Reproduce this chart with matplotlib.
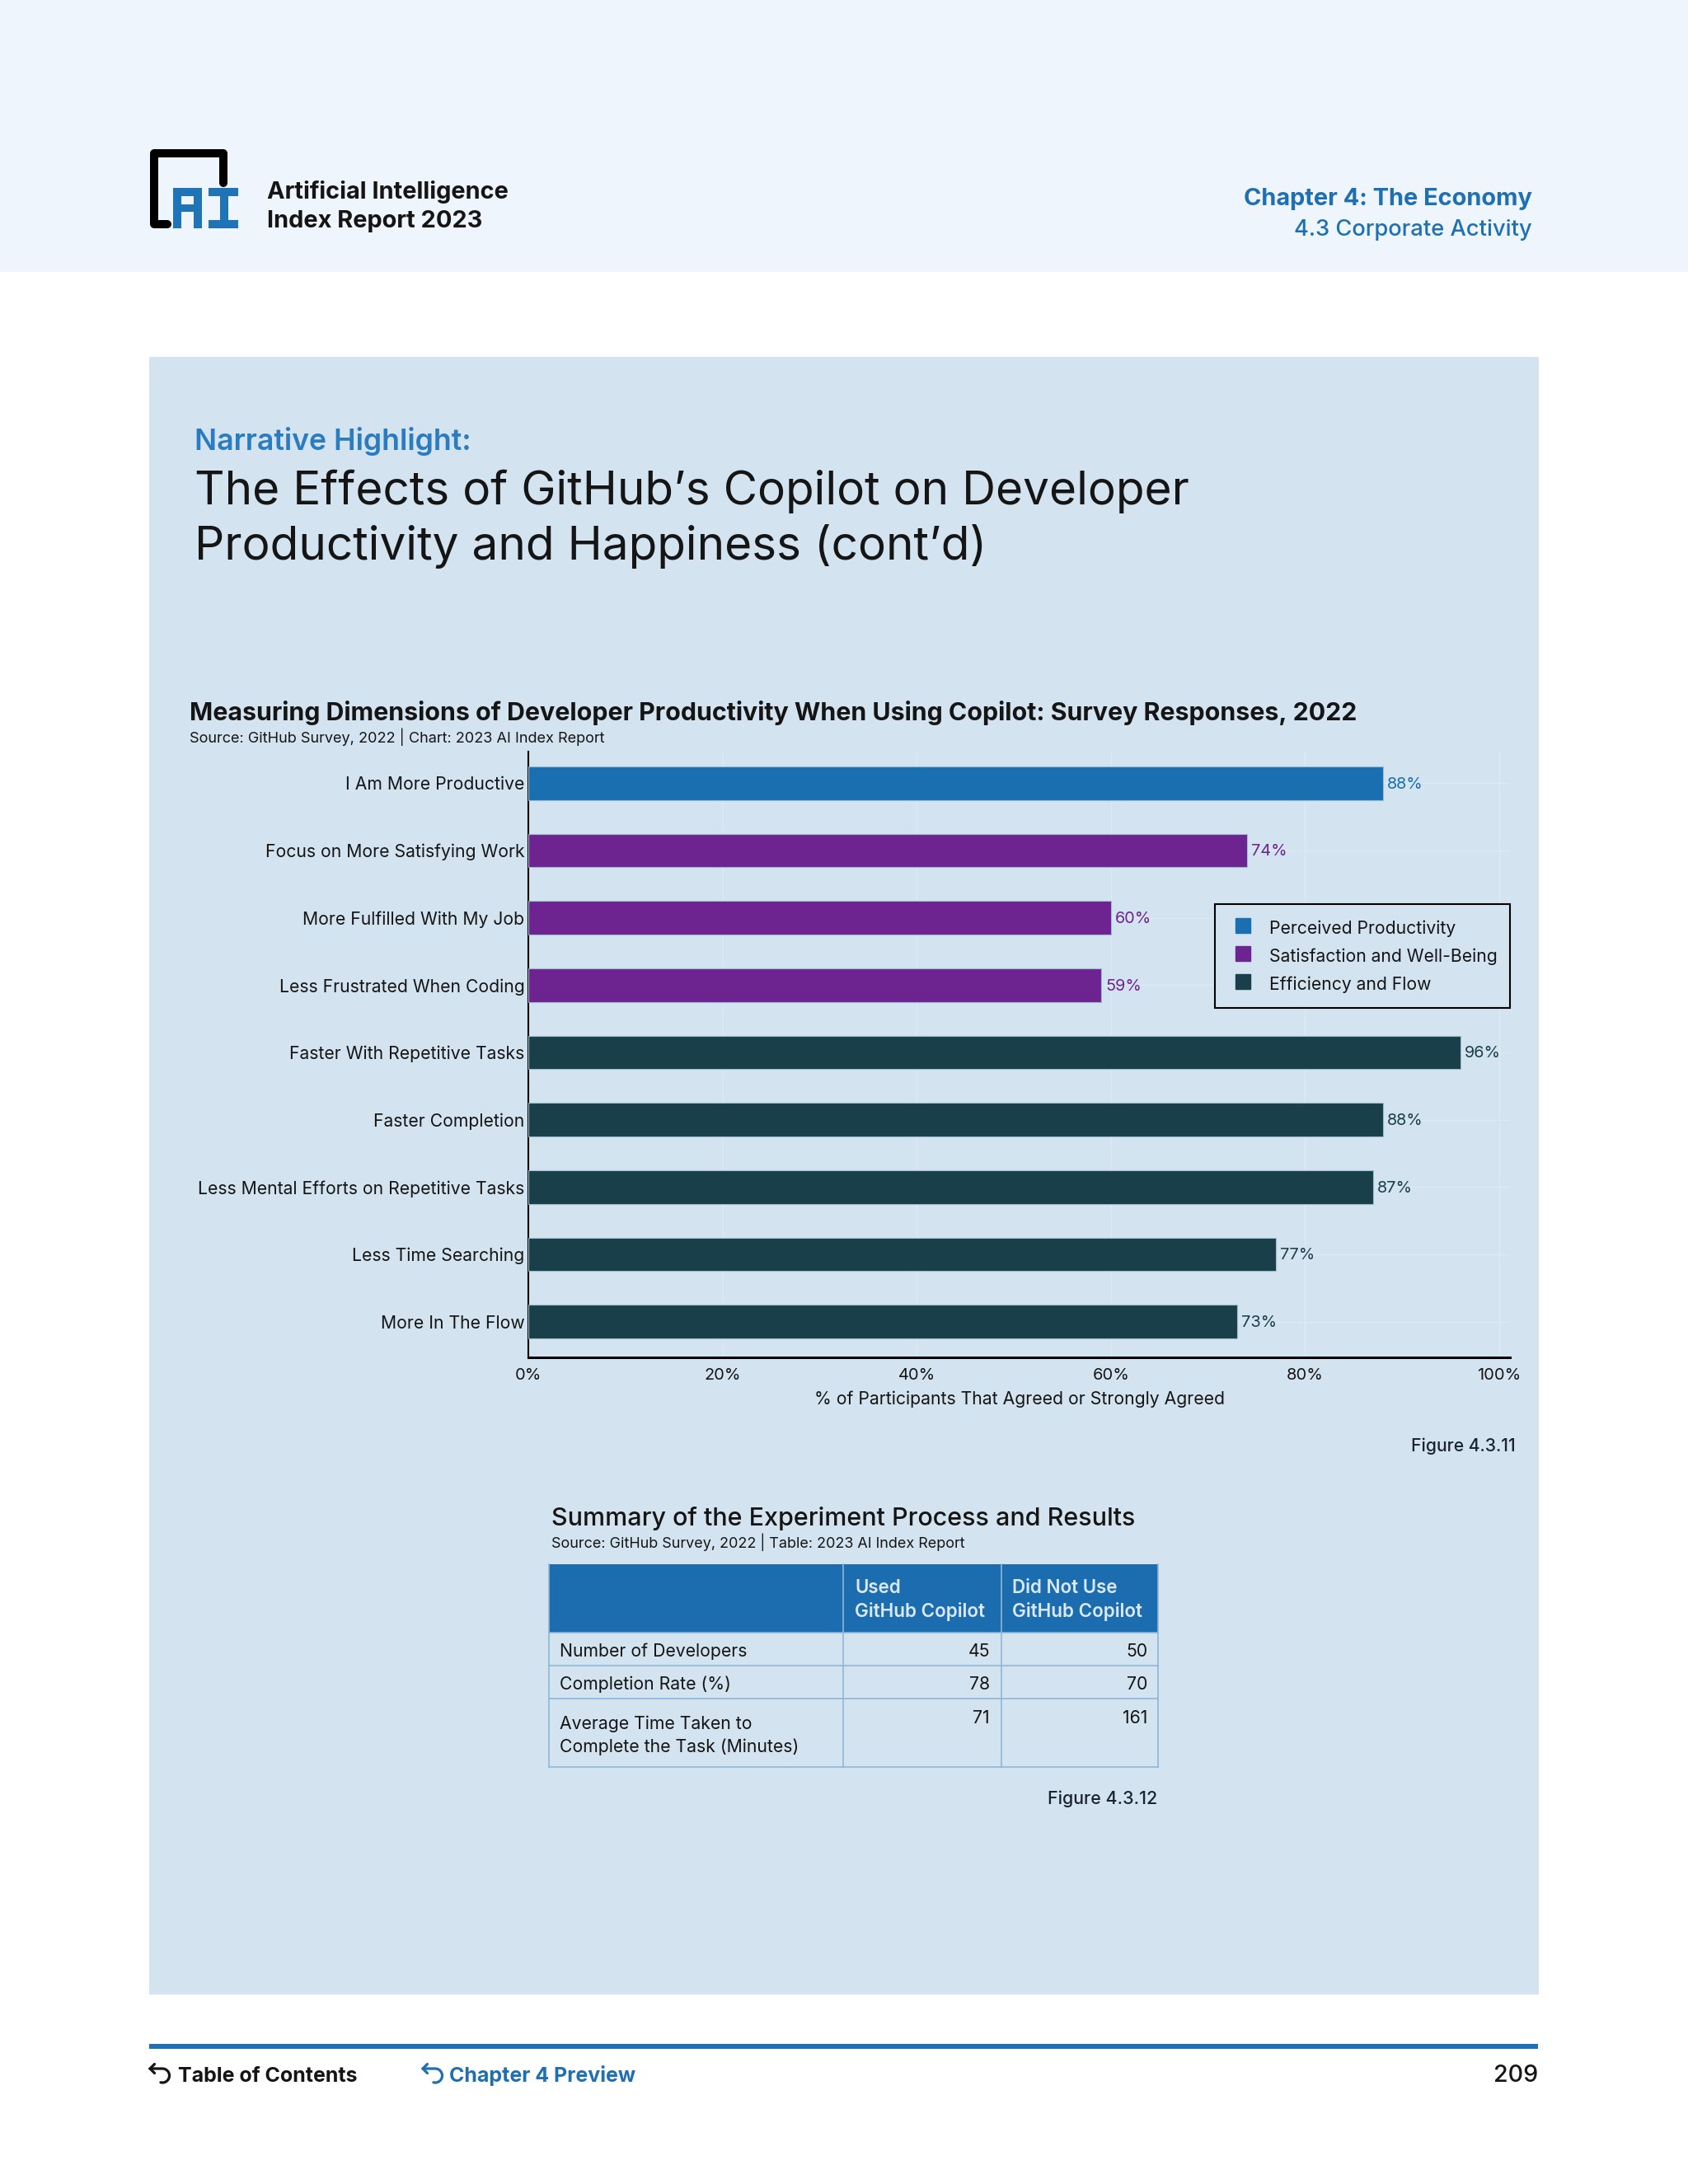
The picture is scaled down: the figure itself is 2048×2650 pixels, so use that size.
import numpy as np
import matplotlib
matplotlib.use('Agg')
import matplotlib.pyplot as plt
from matplotlib.patches import Rectangle
from matplotlib.lines import Line2D

FONT = 'Inter'
plt.rcParams['font.family'] = [FONT, 'DejaVu Sans']

# ---------------- data ----------------
categories = [
    'I Am More Productive',
    'Focus on More Satisfying Work',
    'More Fulfilled With My Job',
    'Less Frustrated When Coding',
    'Faster With Repetitive Tasks',
    'Faster Completion',
    'Less Mental Efforts on Repetitive Tasks',
    'Less Time Searching',
    'More In The Flow',
]
values = [88, 74, 60, 59, 96, 88, 87, 77, 73]
groups = [
    'Perceived Productivity',
    'Satisfaction and Well-Being',
    'Satisfaction and Well-Being',
    'Satisfaction and Well-Being',
    'Efficiency and Flow',
    'Efficiency and Flow',
    'Efficiency and Flow',
    'Efficiency and Flow',
    'Efficiency and Flow',
]
group_names = ['Perceived Productivity', 'Satisfaction and Well-Being', 'Efficiency and Flow']
group_colors = ['#1a6fb1', '#6e2490', '#193f4a']
x_ticks = [0, 20, 40, 60, 80, 100]
x_tick_labels = ['0%', '20%', '40%', '60%', '80%', '100%']

table_columns = ['Used\nGitHub Copilot', 'Did Not Use\nGitHub Copilot']
table_rows = ['Number of Developers', 'Completion Rate (%)',
              'Average Time Taken to\nComplete the Task (Minutes)']
used_copilot = [45, 78, 71]
not_used_copilot = [50, 70, 161]

# ---------------- page ----------------
W, H = 2048, 2650
PANEL = '#d3e4f0'
BLUE = '#1f70b3'
INK = '#151515'

fig = plt.figure(figsize=(W / 100, H / 100), dpi=100)
fig.patch.set_facecolor('white')
pg = fig.add_axes([0, 0, 1, 1])
pg.set_xlim(0, W)
pg.set_ylim(H, 0)
pg.axis('off')
r = fig.canvas.get_renderer()


def fit(s, w, weight='normal', size=20):
    t = pg.text(0, 0, s, fontsize=size, fontweight=weight)
    bw = t.get_window_extent(r).width
    t.remove()
    return size * w / bw


def back_arrow(x0, yc, color):
    # small "return" icon: chevron at left, line, arc around the right
    cx, rad = x0 + 15, 8.5
    th = np.linspace(np.pi / 2, -np.pi / 2 - 0.25, 40)
    xs = np.concatenate([[x0, cx], cx + rad * np.cos(th)])
    ys = np.concatenate([[yc - rad, yc - rad], yc - rad * np.sin(th)])
    pg.plot(xs, ys, color=color, lw=2.3, solid_capstyle='round', solid_joinstyle='round')
    pg.plot([x0 + 5.5, x0, x0 + 5.5], [yc - rad - 5.5, yc - rad, yc - rad + 5.5], color=color,
            lw=2.3, solid_capstyle='round', solid_joinstyle='miter')


# header band and panel
pg.add_patch(Rectangle((0, 0), W, 330, color='#eef5fc', lw=0))
pg.add_patch(Rectangle((181, 433), 1867 - 181, 2420 - 433, color=PANEL, lw=0))

# logo
pg.plot([271, 271, 187, 187, 203], [222, 186, 186, 272, 272], color='black',
        lw=7.2, solid_capstyle='round', solid_joinstyle='round')
LB = '#1f74b8'
for (x0, y0, w0, h0) in [(210, 228, 10, 49), (235, 228, 10, 49), (210, 228, 35, 10),
                         (210, 248, 35, 9), (253, 228, 36, 10), (267, 228, 10, 49),
                         (253, 267, 36, 10)]:
    pg.add_patch(Rectangle((x0, y0), w0, h0, color=LB, lw=0))

fs = fit('Artificial Intelligence', 293, 'bold')
pg.text(324, 241, 'Artificial Intelligence', fontsize=fs, fontweight='bold', color=INK, va='baseline')
pg.text(324, 276, 'Index Report 2023', fontsize=fs, fontweight='bold', color=INK, va='baseline')

fs = fit('Chapter 4: The Economy', 351, 'bold')
pg.text(1859, 249, 'Chapter 4: The Economy', fontsize=fs, fontweight='bold', color=BLUE,
        ha='right', va='baseline')
fs = fit('4.3 Corporate Activity', 288, 'medium')
pg.text(1859, 286, '4.3 Corporate Activity', fontsize=fs, fontweight='medium', color=BLUE,
        ha='right', va='baseline')

fs = fit('Narrative Highlight:', 336, 'semibold')
pg.text(236, 546, 'Narrative Highlight:', fontsize=fs, fontweight='semibold', color='#2a7bbf',
        va='baseline')
fs = fit('The Effects of GitHub’s Copilot on Developer', 1207)
pg.text(236, 612, 'The Effects of GitHub’s Copilot on Developer', fontsize=fs, color=INK, va='baseline')
pg.text(236, 679, 'Productivity and Happiness (cont’d)', fontsize=fs, color=INK, va='baseline')

ct = 'Measuring Dimensions of Developer Productivity When Using Copilot: Survey Responses, 2022'
fs = fit(ct, 1419, 'bold')
pg.text(230, 874, ct, fontsize=fs, fontweight='bold', color=INK, va='baseline')
src = 'Source: GitHub Survey, 2022 | Chart: 2023 AI Index Report'
fs = fit(src, 506)
pg.text(230, 901, src, fontsize=fs, color=INK, va='baseline')

fs = fit('Figure 4.3.11', 127, 'medium')
pg.text(1839, 1761, 'Figure 4.3.11', fontsize=fs, fontweight='medium', color='#1b2430',
        ha='right', va='baseline')

# ---------------- chart ----------------
fs_cat = fit('Less Mental Efforts on Repetitive Tasks', 395)
fs_tick = fit('100%', 53)
fs_val = fit('96%', 44)
fs_xl = fit('% of Participants That Agreed or Strongly Agreed', 497)
fs_leg = fit('Satisfaction and Well-Being', 276)

ax = fig.add_axes([641 / W, 1 - 1647 / H, (1832 - 641) / W, (1647 - 912) / H])
ax.set_facecolor('none')
cmap = dict(zip(group_names, group_colors))
bar_colors = [cmap[g] for g in groups]
ypos = list(range(len(categories)))
ax.barh(ypos, values, height=0.5, color=bar_colors, edgecolor='#9dbccd', linewidth=0.8, zorder=3)
for y, v, c in zip(ypos, values, bar_colors):
    ax.annotate(f'{v}%', (v, y), xytext=(3.6, -1), textcoords='offset points',
                va='center', ha='left', fontsize=fs_val, color=c)
ax.set_xlim(0, 101.1)
ax.set_ylim(8.53, -0.47)
ax.set_yticks(ypos, categories)
ax.set_xticks(x_ticks, x_tick_labels)
ax.tick_params(axis='y', length=0, pad=3.2, labelsize=fs_cat, labelcolor=INK)
ax.tick_params(axis='x', length=0, pad=9.5, labelsize=fs_tick, labelcolor=INK)
ax.set_xlabel('% of Participants That Agreed or Strongly Agreed', fontsize=fs_xl, color=INK, labelpad=6.5)
ax.grid(True, color='#deeaf3', lw=1, zorder=0)
ax.set_axisbelow(True)
for s in ['top', 'right']:
    ax.spines[s].set_visible(False)
ax.spines['left'].set_linewidth(1.5)
ax.spines['bottom'].set_linewidth(2.2)
ax.spines['left'].set_color('black')
ax.spines['bottom'].set_color('black')

handles = [Line2D([], [], marker='s', ls='', markersize=13.5, color=c) for c in group_colors]
leg = ax.legend(handles, group_names, loc='upper left', bbox_to_anchor=(1474 / W, 1 - 1097 / H),
                bbox_transform=fig.transFigure, borderaxespad=0, frameon=True, fancybox=False,
                edgecolor='black', facecolor=PANEL, framealpha=1, fontsize=fs_leg,
                borderpad=0.72, handlelength=1.8, handletextpad=0.62, labelspacing=0.3,
                handleheight=1.65, numpoints=1)
leg.get_frame().set_linewidth(1.5)
for t in leg.get_texts():
    t.set_color(INK)

# ---------------- table ----------------
tt = 'Summary of the Experiment Process and Results'
fs = fit(tt, 707, 'medium')
pg.text(669, 1851, tt, fontsize=fs, fontweight='medium', color=INK, va='baseline')
tsrc = 'Source: GitHub Survey, 2022 | Table: 2023 AI Index Report'
fs = fit(tsrc, 503)
pg.text(669, 1878, tsrc, fontsize=fs, color=INK, va='baseline')

TL, TR, C1, C2 = 666, 1405, 1023, 1215
HT, HB = 1898, 1981
row_lines = [1981, 2021, 2061, 2144]
pg.add_patch(Rectangle((TL, HT), TR - TL, HB - HT, color='#1c6db0', lw=0))
LINE = '#8db6da'
for yl in row_lines:
    pg.plot([TL, TR], [yl, yl], color=LINE, lw=1.2)
for xl in [TL, C1, C2, TR]:
    pg.plot([xl, xl], [HT, row_lines[-1]], color=LINE, lw=1.2)

fs_th = fit('GitHub Copilot', 158, 'semibold')
for xc, col in zip([C1 + 14, C2 + 13], table_columns):
    for k, line in enumerate(col.split('\n')):
        pg.text(xc, 1933 + 29 * k, line, fontsize=fs_th, fontweight='semibold',
                color='#dbe8f5', va='baseline')

fs_td = fit('Complete the Task (Minutes)', 290)
for i, (lab, a, b) in enumerate(zip(table_rows, used_copilot, not_used_copilot)):
    top, bot = row_lines[i], row_lines[i + 1]
    lines = lab.split('\n')
    if len(lines) == 1:
        yc = (top + bot) / 2 + 3
        pg.text(679, yc, lab, fontsize=fs_td, color=INK, va='center')
        pg.text(1201, yc, str(a), fontsize=fs_td, color=INK, va='center', ha='right')
        pg.text(1392, yc, str(b), fontsize=fs_td, color=INK, va='center', ha='right')
    else:
        for k, line in enumerate(lines):
            pg.text(679, top + 31 + 28 * k, line, fontsize=fs_td, color=INK, va='center')
        pg.text(1201, top + 24, str(a), fontsize=fs_td, color=INK, va='center', ha='right')
        pg.text(1392, top + 24, str(b), fontsize=fs_td, color=INK, va='center', ha='right')

fs = fit('Figure 4.3.12', 133, 'medium')
pg.text(1404, 2189, 'Figure 4.3.12', fontsize=fs, fontweight='medium', color='#1b2430',
        ha='right', va='baseline')

# ---------------- footer ----------------
pg.add_patch(Rectangle((181, 2480), 1866 - 181, 6, color='#1f70b5', lw=0))
fs_f = fit('Table of Contents', 218, 'bold')
back_arrow(182, 2518.5, INK)
pg.text(216, 2526, 'Table of Contents', fontsize=fs_f, fontweight='bold', color=INK, va='baseline')
back_arrow(513, 2518.5, BLUE)
pg.text(545, 2526, 'Chapter 4 Preview', fontsize=fs_f, fontweight='bold', color=BLUE, va='baseline')
fs = fit('209', 54, 'medium')
pg.text(1866, 2526, '209', fontsize=fs, fontweight='medium', color=INK, ha='right', va='baseline')

fig.savefig('out.png', dpi=100, facecolor='white')
